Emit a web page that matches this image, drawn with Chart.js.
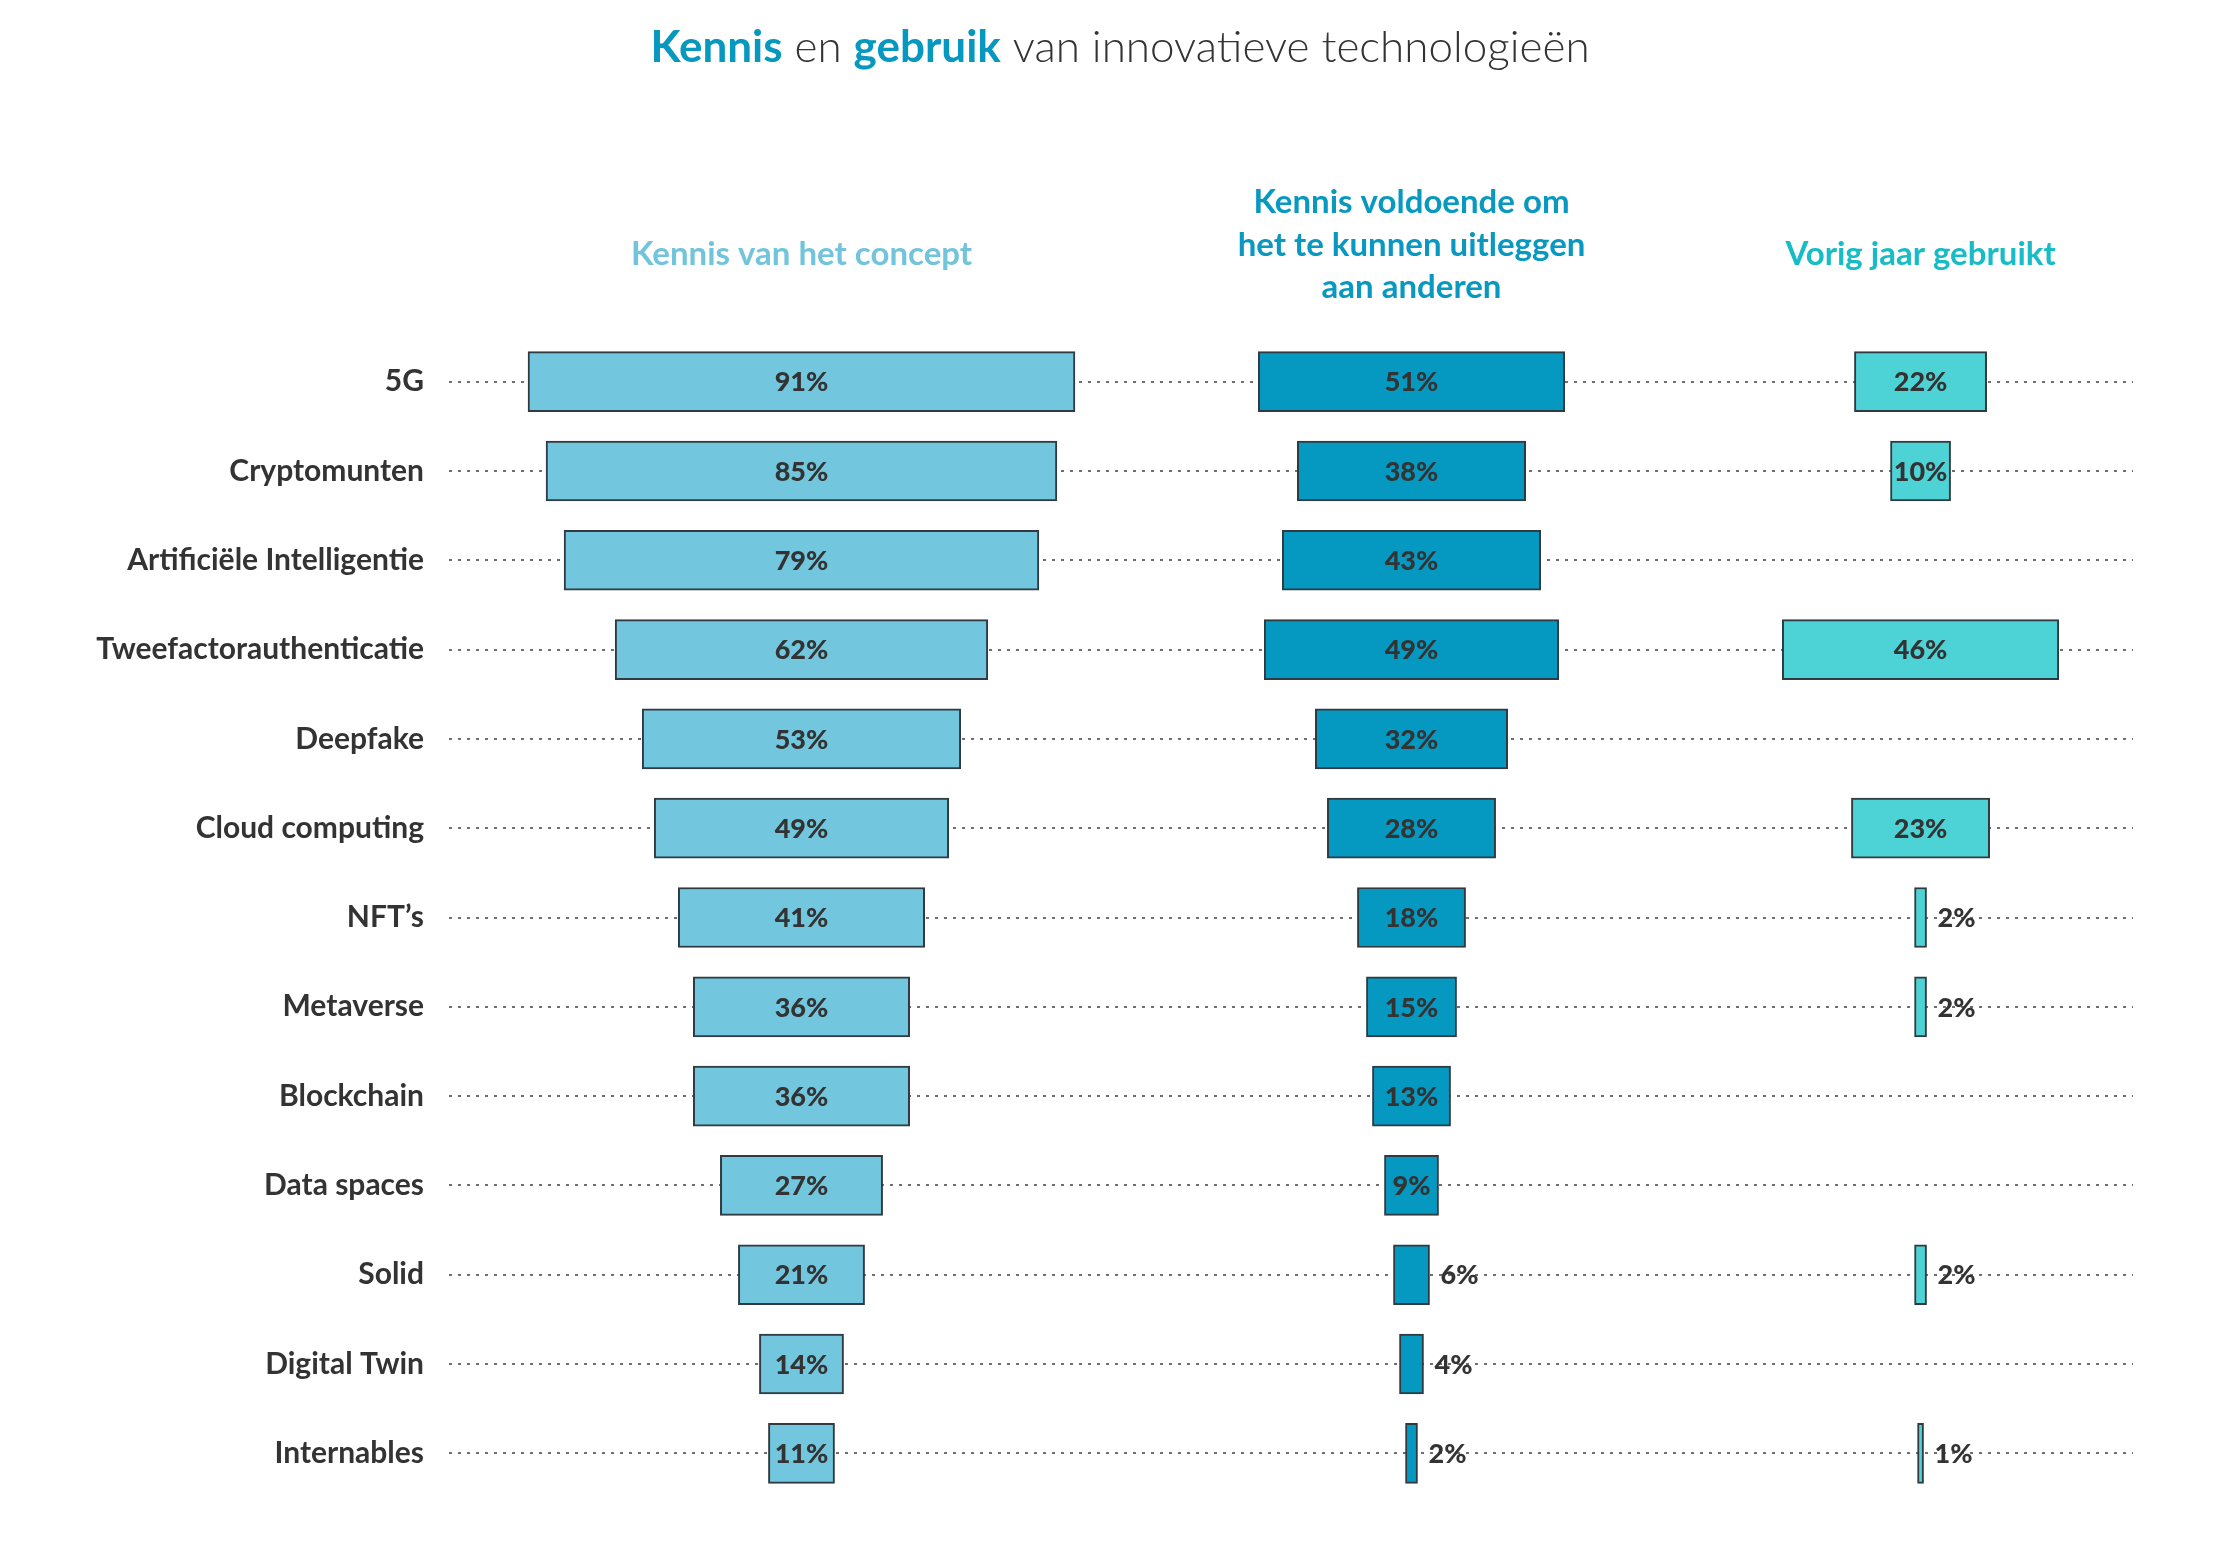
<!DOCTYPE html>
<html>
<head>
<meta charset="utf-8">
<script src="https://cdn.jsdelivr.net/npm/chart.js@4"></script>
<style>
  html, body { margin: 0; padding: 0; background: #fff; }
  canvas { display: block; }
</style>
</head>
<body>
<canvas id="tech-chart" width="2240" height="1541"></canvas>
<script>
const categories = ['5G', 'Cryptomunten', 'Artificiële Intelligentie', 'Tweefactorauthenticatie', 'Deepfake',
    'Cloud computing', "NFT’s", 'Metaverse', 'Blockchain', 'Data spaces', 'Solid', 'Digital Twin', 'Internables'];
const conceptKnown = [91, 85, 79, 62, 53, 49, 41, 36, 36, 27, 21, 14, 11];
const canExplain = [51, 38, 43, 49, 32, 28, 18, 15, 13, 9, 6, 4, 2];
const usedLastYear = [22, 10, null, 46, null, 23, 2, 2, null, null, 2, null, 1];
const columnTitles = [
    ['Kennis van het concept'],
    ['Kennis voldoende om', 'het te kunnen uitleggen', 'aan anderen'],
    ['Vorig jaar gebruikt'],
];

// where each column is centred on the shared percent axis
const columnCenters = [0, 101.5, 186.2];
const fills = ['#72c6dd', '#0599c2', '#4dd3d5'];
const headerColors = ['#72c4dc', '#0898c0', '#17bcc6'];

function centered(values, center) {
    return values.map(v => v == null ? null : [center - v / 2, center + v / 2]);
}

const series = [conceptKnown, canExplain, usedLastYear];

const datasets = series.map((values, i) => ({
    label: columnTitles[i].join(' '),
    data: centered(values, columnCenters[i]),
    backgroundColor: fills[i],
    borderColor: '#2f3b40',
    borderWidth: 2,
    borderSkipped: false,
    barThickness: 60,
    grouped: false,
}));

const textPlugin = {
    id: 'textPlugin',
    afterDatasetsDraw(chart) {
        const ctx = chart.ctx;
        ctx.save();
        ctx.fillStyle = '#333';
        ctx.font = '900 27px Lato';
        ctx.textBaseline = 'middle';
        chart.data.datasets.forEach((ds, i) => {
            const meta = chart.getDatasetMeta(i);
            meta.data.forEach((bar, j) => {
                const v = series[i][j];
                if (v == null) return;
                const left = Math.min(bar.x, bar.base);
                const right = Math.max(bar.x, bar.base);
                if (v >= 8) {
                    ctx.textAlign = 'center';
                    ctx.fillText(v + '%', (left + right) / 2, bar.y + 1);
                } else {
                    ctx.textAlign = 'left';
                    ctx.fillText(v + '%', right + 11, bar.y + 1);
                }
            });
        });
        ctx.restore();
    },
    afterDraw(chart) {
        const ctx = chart.ctx;
        const xScale = chart.scales.x;
        ctx.save();

        // title with mixed weights
        const runs = [
            { t: 'Kennis', f: '700 44px Lato', c: '#0798c0' },
            { t: ' en ', f: '300 44px Lato', c: '#333' },
            { t: 'gebruik', f: '700 44px Lato', c: '#0798c0' },
            { t: ' van innovatieve technologieën', f: '300 44px Lato', c: '#333' },
        ];
        let total = 0;
        runs.forEach(r => { ctx.font = r.f; r.w = ctx.measureText(r.t).width; total += r.w; });
        let x = chart.width / 2 - total / 2;
        ctx.textAlign = 'left';
        ctx.textBaseline = 'alphabetic';
        runs.forEach(r => {
            ctx.font = r.f;
            ctx.fillStyle = r.c;
            ctx.fillText(r.t, x, 62);
            x += r.w;
        });

        // column headers
        ctx.font = '700 33px Lato';
        ctx.textAlign = 'center';
        columnTitles.forEach((lines, i) => {
            const cx = xScale.getPixelForValue(columnCenters[i]);
            ctx.fillStyle = headerColors[i];
            if (lines.length === 1) {
                ctx.fillText(lines[0], cx, 265);
            } else {
                lines.forEach((line, k) => ctx.fillText(line, cx, 213 + k * 42.5));
            }
        });
        ctx.restore();
    }
};

const chart = new Chart(document.getElementById('tech-chart'), {
    type: 'bar',
    data: { labels: categories, datasets: datasets },
    options: {
        indexAxis: 'y',
        responsive: false,
        animation: false,
        devicePixelRatio: 1,
        layout: { padding: { top: 337, bottom: 34, left: 0, right: 107 } },
        plugins: {
            legend: { display: false },
            tooltip: { enabled: false },
        },
        scales: {
            x: {
                type: 'linear',
                min: -58.65,
                max: 221.55,
                display: false,
            },
            y: {
                offset: true,
                afterFit(scale) { scale.width = 449; },
                grid: {
                    offset: false,
                    drawTicks: false,
                    color: '#6f6f6f',
                    lineWidth: 2,
                },
                border: { display: false, dash: [3, 6] },
                ticks: {
                    padding: 25,
                    color: '#333',
                    font: { family: 'Lato', weight: '700', size: 30 },
                },
            },
        },
    },
    plugins: [textPlugin],
});
</script>
</body>
</html>
